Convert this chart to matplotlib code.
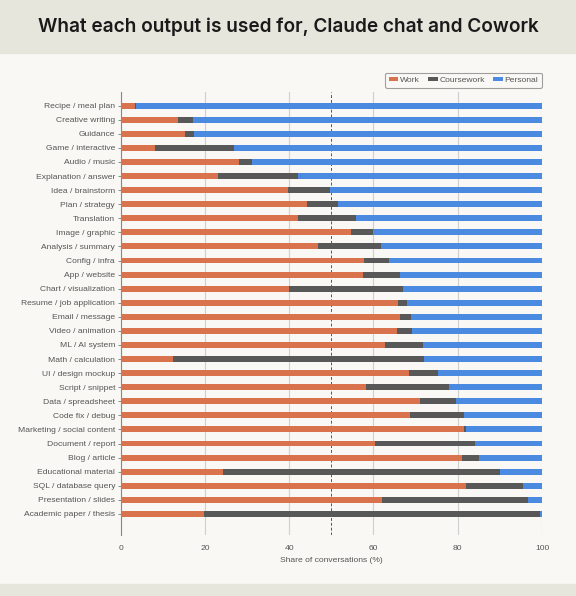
import matplotlib.pyplot as plt
import matplotlib.patches as mpatches
import numpy as np

categories = ["Recipe / meal plan", "Creative writing", "Guidance", "Game / interactive",
              "Audio / music", "Explanation / answer", "Idea / brainstorm", "Plan / strategy",
              "Translation", "Image / graphic", "Analysis / summary", "Config / infra",
              "App / website", "Chart / visualization", "Resume / job application",
              "Email / message", "Video / animation", "ML / AI system", "Math / calculation",
              "UI / design mockup", "Script / snippet", "Data / spreadsheet", "Code fix / debug",
              "Marketing / social content", "Document / report", "Blog / article",
              "Educational material", "SQL / database query", "Presentation / slides",
              "Academic paper / thesis"]

work = [3.5, 13.6, 15.3, 8.2, 28.2, 23.0, 39.7, 44.3, 42.0, 54.6, 46.9, 57.7, 57.5, 39.9,
        65.8, 66.4, 65.5, 62.8, 12.4, 68.4, 58.2, 71.1, 68.6, 81.4, 60.4, 80.9, 24.3, 82.0,
        62.1, 19.8]
coursework = [0.1, 3.5, 2.0, 18.7, 3.0, 19.0, 10.1, 7.2, 13.9, 5.3, 14.8, 6.0, 8.9, 27.2,
              2.2, 2.6, 3.7, 9.0, 59.6, 6.9, 19.7, 8.5, 13.0, 0.6, 23.8, 4.2, 65.8, 13.5,
              34.6, 79.8]
personal = [100 - w - c for w, c in zip(work, coursework)]

c_work = "#d9734e"
c_course = "#585858"
c_pers = "#4a8ae0"
bg = "#f9f8f4"
band = "#e7e6dc"
txt = "#555555"

plt.rcParams['font.family'] = ['Liberation Sans', 'DejaVu Sans']

fig = plt.figure(figsize=(5.76, 5.96), dpi=100)
fig.patch.set_facecolor(bg)
fig.patches.append(mpatches.Rectangle((0, 1 - 53 / 596), 1, 53 / 596, transform=fig.transFigure,
                                      color=band, zorder=0))
fig.patches.append(mpatches.Rectangle((0, 0), 1, 12 / 596, transform=fig.transFigure,
                                      color=band, zorder=0))
fig.text(0.5, 1 - 27 / 596, "What each output is used for, Claude chat and Cowork",
         ha="center", va="center", fontsize=13.7, color="#1a1a1a", fontweight="semibold",
         family=["Inter", "DejaVu Sans"])

ax = fig.add_axes([120.6 / 576, 1 - 535 / 596, (542 - 120.6) / 576, (535 - 92) / 596])
ax.set_facecolor(bg)

y = np.arange(len(categories))
h = 0.42
ax.barh(y, work, height=h, color=c_work, label="Work", zorder=3)
ax.barh(y, coursework, left=work, height=h, color=c_course, label="Coursework", zorder=3)
ax.barh(y, personal, left=[w + c for w, c in zip(work, coursework)], height=h,
        color=c_pers, label="Personal", zorder=3)

ax.set_xlim(0, 100)
ax.set_ylim(len(categories) + 0.5, -0.97)
ax.set_yticks(y)
ax.set_yticklabels(categories)
ax.set_xticks([0, 20, 40, 60, 80, 100])
ax.tick_params(axis="y", length=2.5, width=0.6, color="#777777", labelsize=6.1,
               labelcolor=txt, pad=1.5)
ax.tick_params(axis="x", length=0, labelsize=6.1, labelcolor=txt, pad=7)
ax.grid(axis="x", color="#cfcfcf", linewidth=0.8, zorder=0)
ax.axvline(50, color="#555555", linestyle=(0, (3, 2)), linewidth=0.7, zorder=2)
for s in ["top", "right", "bottom"]:
    ax.spines[s].set_visible(False)
ax.spines["left"].set_color("#888888")
ax.spines["left"].set_linewidth(0.8)
ax.set_xlabel("Share of conversations (%)", fontsize=6.1, color=txt, labelpad=4)

leg = ax.legend(loc="lower right", bbox_to_anchor=(1.0, 1.01), ncol=3, frameon=True,
                fontsize=6.1, handlelength=1.1, handleheight=0.4, columnspacing=1.0,
                handletextpad=0.2, borderpad=0.45, borderaxespad=0, fancybox=True)
leg.get_frame().set_edgecolor("#888888")
leg.get_frame().set_facecolor(bg)
leg.get_frame().set_linewidth(0.8)
for t in leg.get_texts():
    t.set_color(txt)

fig.savefig("out.png", dpi=100, facecolor=fig.get_facecolor())
